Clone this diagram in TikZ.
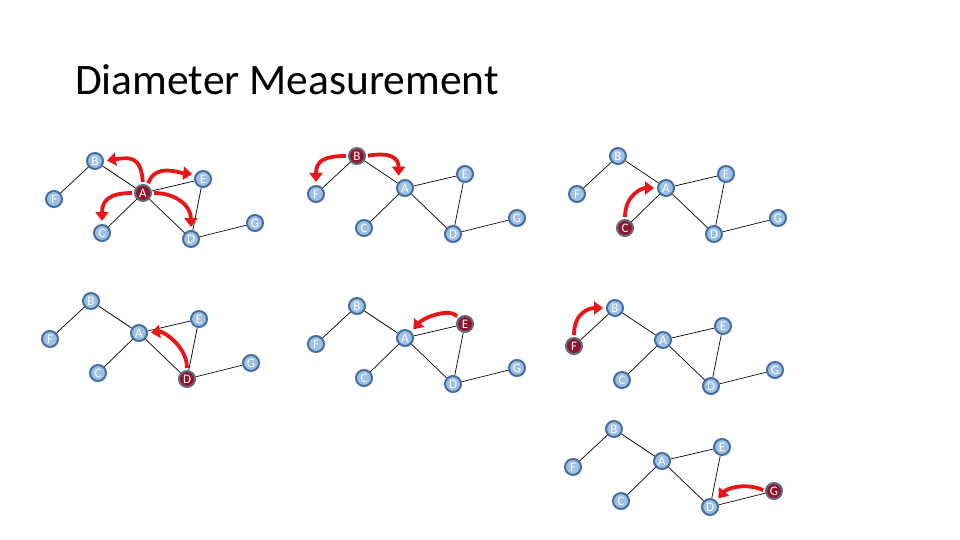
\documentclass[tikz,border=0pt]{standalone}
\usepackage{fontspec}
\setmainfont{Carlito}
\usetikzlibrary{arrows.meta}

\definecolor{nodeblue}{RGB}{157,192,228}
\definecolor{rimblue}{RGB}{68,110,160}
\definecolor{visitred}{RGB}{145,20,40}
\definecolor{rimgrey}{RGB}{95,105,130}
\definecolor{arrowred}{RGB}{232,22,22}

\begin{document}
\begin{tikzpicture}[x=1pt, y=-1pt,
  vtx/.style={circle, fill=nodeblue, draw=rimblue, line width=2pt, minimum size=16pt,
    inner sep=0pt, text=white, font=\fontsize{13}{13}\selectfont},
  hot/.style={vtx, fill=visitred, draw=rimgrey},
  edge/.style={black, line width=0.7pt},
  hop/.style={arrowred, line width=3.8pt, shorten <=2pt, shorten >=3pt,
    -{Triangle[length=9pt, width=13pt]}}]

\useasboundingbox (0,0) rectangle (960,540);

% Title
\node[anchor=base west, inner sep=0pt, font=\fontsize{43.5}{43.5}\selectfont] (title) at (75,95) {Diameter Measurement};

% Seven copies of the graph, one source vertex highlighted in each
\foreach \g/\ax/\ay/\hl in {g1/143/193/1, g2/405/188/2, g3/666/188/3, g4/139/333/4,
                             g5/405/338/5, g6/663/340/6, g7/662/461/7}{
  \begin{scope}[shift={(\ax,\ay)}]
    \foreach \n/\x/\y [count=\i] in {A/0/0, B/-48/-32, C/-41/40, D/48/46,
                                     E/60/-14, F/-89/6, G/112/30}{
      \ifnum\i=\hl \def\vst{hot}\else \def\vst{vtx}\fi
      \node[style=\vst] (\g\n) at (\x,\y) {\n};
    }
    \foreach \u/\v in {B/F, B/A, A/E, A/C, A/D, E/D, D/G}
      \draw[edge] (\g\u) -- (\g\v);
  \end{scope}
}

% Hops out of A
\draw[hop] (g1A.north) .. controls +(-2,-28) and +(26,-4) .. (g1B.east);
\draw[hop] (g1A.60) .. controls +(8,-22) and +(-18,-2) .. (g1E.150);
\draw[hop] (g1A.west) .. controls +(-24,0) and +(0,-24) .. (g1C.north);
\draw[hop] (g1A.east) .. controls +(24,0) and +(0,-24) .. (g1D.north);

% Hops out of B
\draw[hop] (g2B.west) .. controls +(-24,0) and +(0,-24) .. (g2F.north);
\draw[hop, shorten >=6pt] (g2B.east) .. controls +(24,-4) and +(0,-24) .. (g2A.north west);

% Hop out of C
\draw[hop] (g3C.north) .. controls +(0,-24) and +(-15,0) .. (g3A.west);

% Hop out of D
\draw[hop] (g4D.north) .. controls +(0,-24) and +(15,-2) .. (g4A.east);

% Hop out of E
\draw[hop] (g5E.north west) .. controls +(-10,-10) and +(12,-14) .. (g5A.north east);

% Hop out of F
\draw[hop] (g6F.north) .. controls +(0,-26) and +(-15,0) .. (g6B.west);

% Hop out of G
\draw[hop] (g7G.west) .. controls +(-20,-9) and +(10,-12) .. (g7D.north east);

\end{tikzpicture}
\end{document}
